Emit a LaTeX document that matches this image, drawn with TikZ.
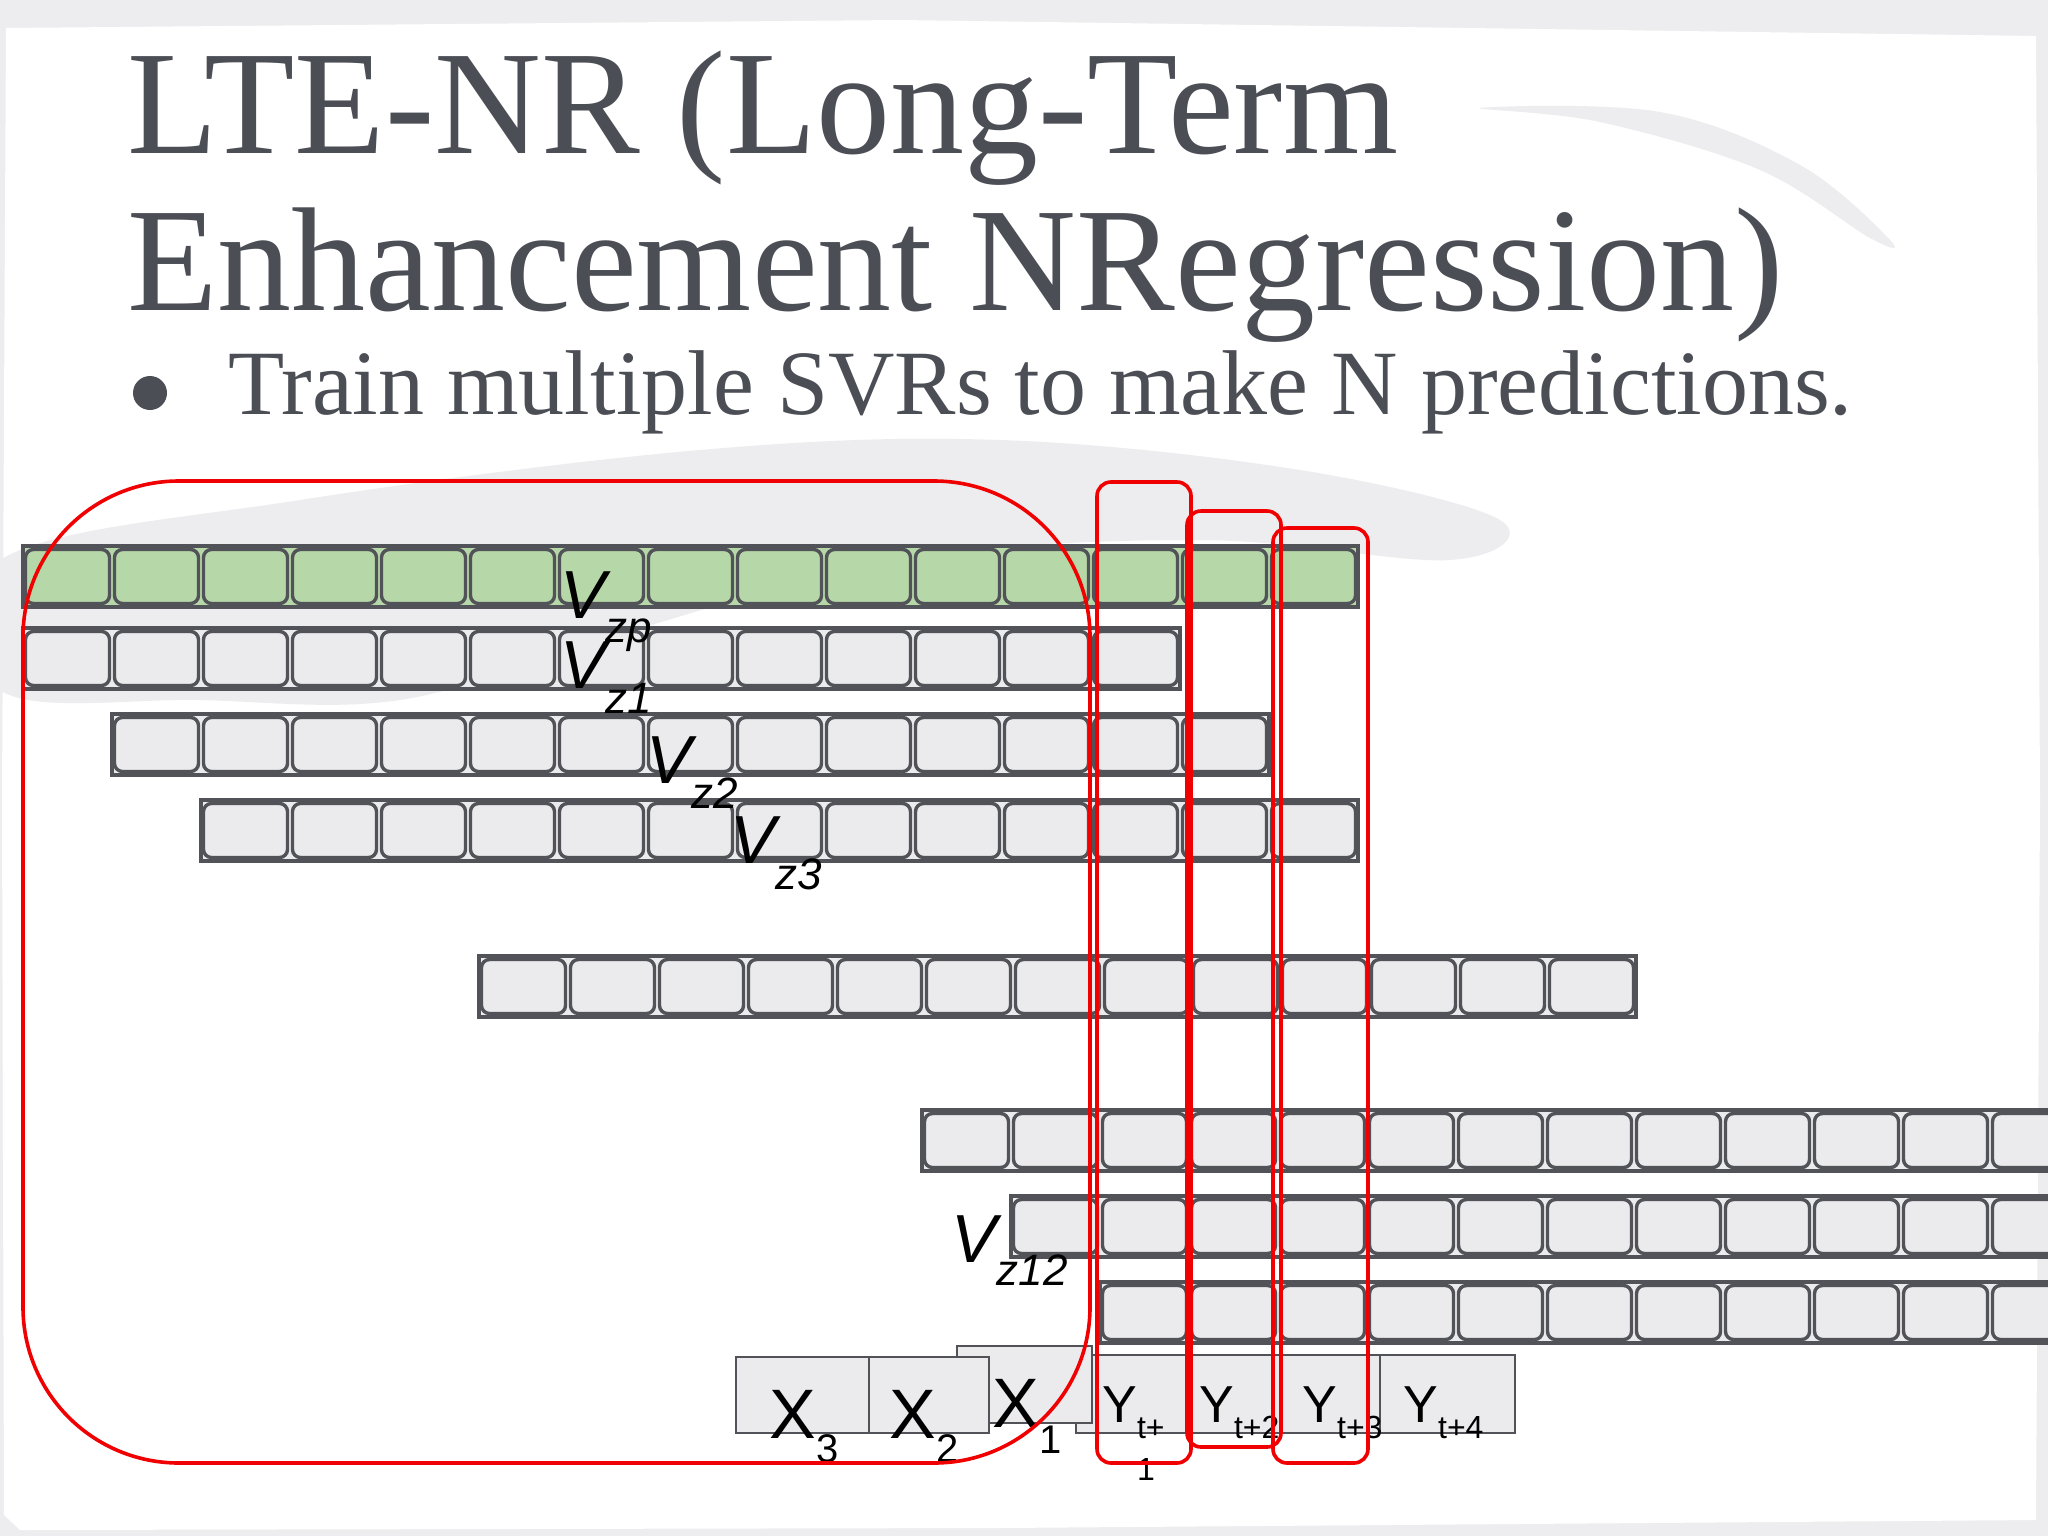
\documentclass[tikz,border=0pt]{standalone}
\usepackage{fontspec}
\setmainfont{Liberation Serif}
\newfontfamily\diagramfont{Liberation Sans}
\usepackage{tikz}
\usetikzlibrary{calc}
\usetikzlibrary{positioning}
\definecolor{slate}{RGB}{76,78,86}
\definecolor{frame-grey}{RGB}{82,83,88}
\definecolor{cell-grey}{RGB}{235,235,237}
\definecolor{sage}{RGB}{182,215,168}
\definecolor{splash}{RGB}{237,237,239}
\definecolor{window-red}{RGB}{240,0,0}
\colorlet{rowfill}{cell-grey}
\newcommand{\subdrop}[3]{\raisebox{-#1}{\fontsize{#2}{#2}\selectfont #3}}

\begin{document}
\begin{tikzpicture}[%
            x=0.5pt,
            y=-0.5pt,
            row fill/.code={\colorlet{rowfill}{#1}},
            rowframe/.style={draw=frame-grey, line width=2pt, fill=rowfill},
            cellbox/.style={draw=frame-grey, line width=1.7pt, fill=rowfill, rounded corners=4pt},
            tokenbox/.style={draw=frame-grey, line width=1.4pt, fill=cell-grey},
            window/.style={draw=window-red, line width=1.8pt, rounded corners=7pt},
            slidetitle/.style={slate, anchor=base west, inner sep=0pt, font=\fontsize{74}{74}\selectfont},
            slidetext/.style={slate, anchor=base west, inner sep=0pt, font=\fontsize{46}{46}\selectfont},
            xtag/.style={anchor=base west, inner sep=0pt, font=\diagramfont\fontsize{35}{35}\selectfont},
            ytag/.style={anchor=base west, inner sep=0pt, font=\diagramfont\fontsize{26}{26}\selectfont},
            vtag/.style={anchor=base west, inner sep=0pt, font=\diagramfont\itshape\fontsize{34}{34}\selectfont},
            seqrow/.pic={%
              \draw [rowframe] (0,0) rectangle (#1*89,61);
              \foreach \i in {1,...,#1}
                \draw [cellbox] ({(\i-1)*89+2.5},3.5) rectangle ({\i*89-2.5},57.5);
            }
          ]
            \useasboundingbox (0,0) rectangle (2048,1536);
            \clip (0,0) rectangle (2048,1536);
            \fill [splash] (0,0) rectangle (2048,1536);
            \fill [white] (6,28) -- (900,20) -- (2036,36) -- (2040,800) -- (2036,1520)
              -- (1000,1528) -- (20,1530) -- (4,1515) -- (2,800) -- cycle;
            \fill [splash] plot [smooth cycle, tension=0.6] coordinates {%
              (0,560) (300,500) (700,450) (1000,440) (1300,470) (1500,520)
              (1450,560) (1200,540) (900,560) (600,640) (400,700) (200,700) (0,690)};
            \fill [splash] plot [smooth cycle, tension=0.6] coordinates {%
              (1480,108) (1660,112) (1800,165) (1890,240) (1870,238) (1760,170) (1600,122)};

            \node [slidetitle] (title) at (127,153) {LTE-NR (Long-Term};
            \node [slidetitle] (title-cont) at (127,310) {Enhancement NRegression)};
            \node [%
              circle,
              fill=slate,
              minimum size=17pt,
              inner sep=0pt,
            ] (bullet) at (150,393) {};
            \node [slidetext] (point) at (228,414) {Train multiple SVRs to make N predictions.};

            \pic [row fill=sage] (row-p) at (23,546) {seqrow=15};
            \pic (row-1) at (23,628) {seqrow=13};
            \pic (row-2) at (112,714) {seqrow=13};
            \pic (row-3) at (201,800) {seqrow=13};
            \pic (row-mid) at (479,956) {seqrow=13};
            \pic (row-10) at (922,1110) {seqrow=13};
            \pic (row-11) at (1011,1196) {seqrow=12};
            \pic (row-12) at (1100,1282) {seqrow=11};

            \foreach \a/\b in {1076/1191,1191/1280,1280/1380,1380/1515}
              \draw [tokenbox] (\a,1355) rectangle (\b,1433);
            \draw [tokenbox] (957,1346) rectangle (1092,1423);
            \draw [tokenbox] (736,1357) rectangle (869,1433);
            \draw [tokenbox] (869,1357) rectangle (989,1433);

            \node [xtag] (x3) at (769,1438) {X\subdrop{12pt}{20}{3}};
            \node [xtag] (x2) at (889,1438) {X\subdrop{12pt}{20}{2}};
            \node [xtag] (x1) at (992,1427) {X\subdrop{13pt}{20}{1}};
            \node [ytag] (y1) at (1102,1422) {Y\subdrop{8pt}{16}{\begin{tabular}[t]{@{}l@{}}t+\\[5pt]1\end{tabular}}};
            \node [ytag] (y2) at (1199,1422) {Y\subdrop{8pt}{16}{t+2}};
            \node [ytag] (y3) at (1302,1422) {Y\subdrop{8pt}{16}{t+3}};
            \node [ytag] (y4) at (1403,1422) {Y\subdrop{8pt}{16}{t+4}};

            \node [vtag] (v-zp) at (560,618) {V\subdrop{12pt}{22}{zp}};
            \node [vtag] (v-z1) at (560,688) {V\subdrop{12.5pt}{22}{z1}};
            \node [vtag] (v-z2) at (646,783) {V\subdrop{12.5pt}{22}{z2}};
            \node [vtag] (v-z3) at (730,863) {V\subdrop{13pt}{22}{z3}};
            \node [vtag] (v-z12) at (951,1262) {V\subdrop{11.5pt}{22}{z12}};

            \draw [window, rounded corners=78pt] (23,481) rectangle (1090,1463);
            \draw [window] (1097,482) rectangle (1191,1463);
            \draw [window] (1187,511) rectangle (1281,1447);
            \draw [window] (1273,528) rectangle (1368,1463);
          \end{tikzpicture}
\end{document}
